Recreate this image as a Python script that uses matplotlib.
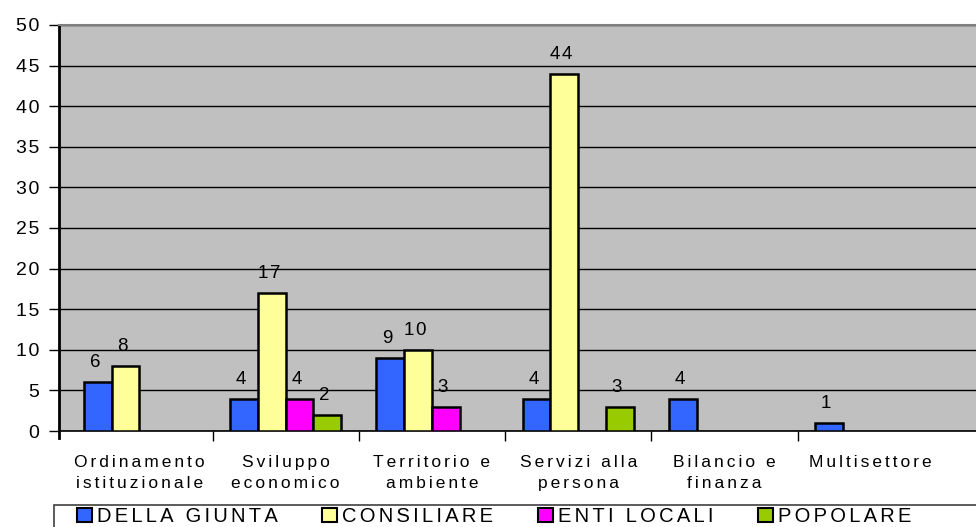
import matplotlib
matplotlib.use("Agg")

import numpy as np
import matplotlib.pyplot as plt
from matplotlib.ticker import FixedLocator
from matplotlib.patches import Rectangle

categorie = [
    "Ordinamento\nistituzionale", "Sviluppo\neconomico", "Territorio e\nambiente",
    "Servizi alla\npersona", "Bilancio e\nfinanza", "Multisettore"
]
serie = ["DELLA GIUNTA", "CONSILIARE", "ENTI LOCALI", "POPOLARE"]
della_giunta = [6, 4, 9, 4, 4, 1]
consiliare = [8, 17, 10, 44, 0, 0]
enti_locali = [0, 4, 3, 0, 0, 0]
popolare = [0, 2, 0, 3, 0, 0]
yticks = list(range(0, 55, 5))

valori = [della_giunta, consiliare, enti_locali, popolare]
colori = ["#3366FF", "#FFFF99", "#FF00FF", "#99CC00"]

plt.rcParams["font.family"] = ["Liberation Sans", "DejaVu Sans"]


def spazia(testo, sep="\u200a"):
    # spaziatura tra le lettere, come nell'originale (testo allargato)
    return "\n".join(sep.join(riga) for riga in testo.split("\n"))


fig = plt.figure(figsize=(9.76, 5.27), dpi=100)
ax = fig.add_axes([59 / 976, 1 - 431 / 527, 1 - 59 / 976, (431 - 25) / 527])
ax.set_facecolor("#C0C0C0")

x = np.arange(len(categorie))
width = 0.19

for j, (nome, vals, col) in enumerate(zip(serie, valori, colori)):
    pos = x + (j - 1.5) * width
    for p, v in zip(pos, vals):
        if v == 0:
            continue
        ax.bar(p, v, width, color=col, edgecolor="black", linewidth=1.8, zorder=3)
        ax.text(p - 0.02, v + 1.35, spazia("%d" % v), ha="center", va="bottom",
                fontsize=13.5, zorder=4)
    # solo per la legenda
    ax.bar(np.nan, np.nan, width, color=col, edgecolor="black", linewidth=1.5,
           label=spazia(nome, "\u200a\u200a"))

ax.set_xlim(-0.55, 5.72)
ax.set_ylim(0, 50)
ax.set_yticks(yticks)
ax.set_yticklabels([spazia(str(t)) for t in yticks])
ax.tick_params(axis="y", labelsize=14, length=7, width=1, direction="out", pad=7)
ax.yaxis.grid(True, color="black", linewidth=1, zorder=0)
ax.set_axisbelow(True)

ax.set_xticks(x)
ax.set_xticklabels([spazia(c, "\u200a\u200a") for c in categorie], fontsize=12.5, linespacing=1.5)
ax.xaxis.set_minor_locator(FixedLocator(np.arange(0.5, 5, 1)))
ax.tick_params(axis="x", which="major", length=0, pad=17)
ax.tick_params(axis="x", which="minor", length=7, width=1)

ax.spines["left"].set_linewidth(2)
ax.spines["left"].set_bounds(-0.9, 50)
ax.spines["bottom"].set_linewidth(1.2)
ax.spines["top"].set_color("#808080")
ax.spines["top"].set_linewidth(1.5)
ax.spines["right"].set_visible(False)

# cornice della legenda
fig.patches.append(Rectangle((54 / 976, -0.05), 1.0, 1 - 505 / 527 + 0.05,
                             transform=fig.transFigure, fill=False,
                             edgecolor="#404040", linewidth=1.2))

leg = fig.legend(
    loc="upper left",
    bbox_to_anchor=(77 / 976, 1 - 507 / 527),
    ncol=4,
    fontsize=14.5,
    handlelength=0.75,
    handleheight=0.75,
    handletextpad=0.25,
    columnspacing=2.2,
    borderaxespad=0,
    borderpad=0,
    frameon=False,
)

fig.savefig("out.png", dpi=100)
